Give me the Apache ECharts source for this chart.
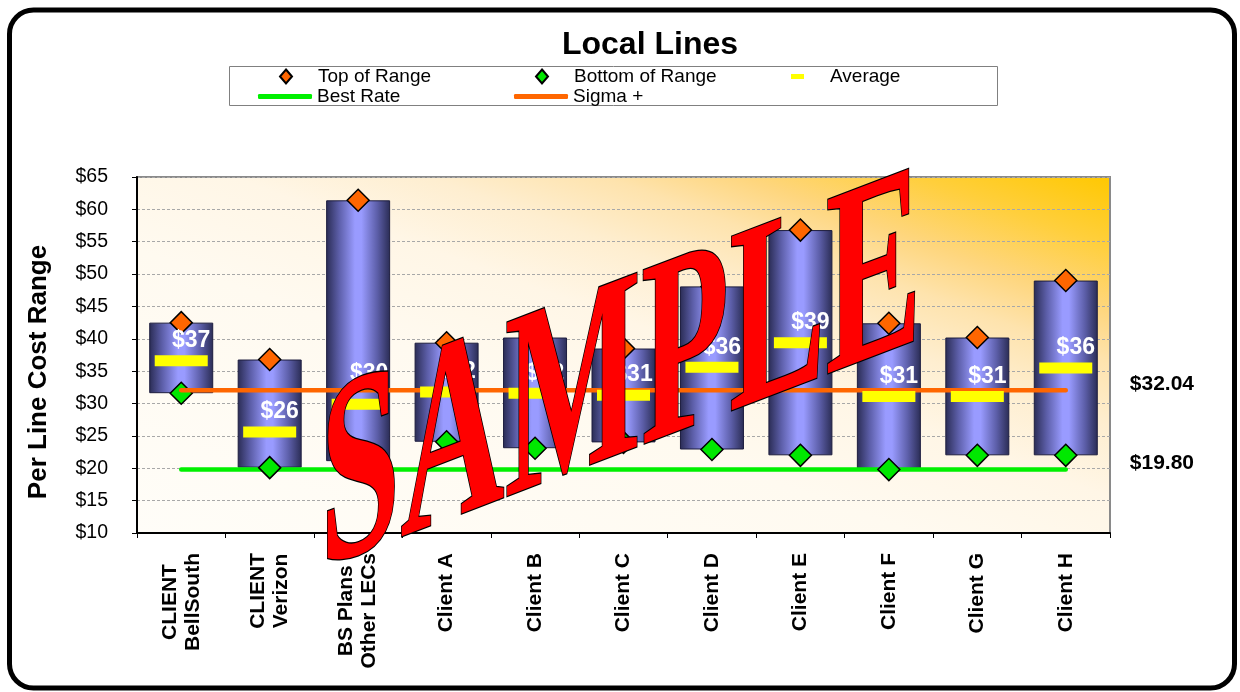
<!DOCTYPE html>
<html>
<head>
<meta charset="utf-8">
<title>Local Lines</title>
<script src="https://cdn.jsdelivr.net/npm/echarts@6/dist/echarts.min.js"></script>
<style>
  html, body { margin: 0; padding: 0; background: #ffffff; }
  #chart { width: 1240px; height: 692px; }
</style>
</head>
<body>
<div id="chart"></div>
<script>
// Per-line cost range by carrier / client
const categories = [
  'CLIENT\nBellSouth', 'CLIENT\nVerizon', 'BS Plans\nOther LECs',
  'Client A', 'Client B', 'Client C', 'Client D',
  'Client E', 'Client F', 'Client G', 'Client H'
];
const topOfRange    = [42.5, 36.8, 61.4, 39.4, 40.2, 38.5, 48.1, 56.8, 42.4, 40.2, 49.0];
const bottomOfRange = [31.6, 20.1, 21.1, 24.1, 23.1, 24.0, 22.9, 22.0, 19.8, 22.0, 22.0];
const averages      = [36.6, 25.6, 29.9, 31.8, 31.6, 31.3, 35.6, 39.4, 31.1, 31.1, 35.5];
const bestRate  = 19.80;
const sigmaPlus = 32.04;
// value axis ticks: $10 ... $65 every $5
const yMin = 10, yMax = 65, yStep = 5;

const FONT = '"Liberation Sans", Arial, sans-serif';

const chart = echarts.init(document.getElementById('chart'), null, { renderer: 'canvas' });

// floating bars: transparent base up to the bottom of range, visible part spans the range
const rangeSpan = topOfRange.map((t, i) => +(t - bottomOfRange[i]).toFixed(2));

const barFill = new echarts.graphic.LinearGradient(0, 0, 1, 0, [
  { offset: 0, color: '#2a2c54' },
  { offset: 0.2, color: '#5c5ea8' },
  { offset: 0.45, color: '#999bff' },
  { offset: 0.55, color: '#999bff' },
  { offset: 0.8, color: '#5c5ea8' },
  { offset: 1, color: '#2a2c54' }
]);

// warm wash rising toward the top-right corner of the plot
const plotFill = new echarts.graphic.LinearGradient(1, 0, 0.764, 1.762, [
  { offset: 0, color: '#ffc800' },
  { offset: 0.1, color: '#ffcf3c' },
  { offset: 0.19, color: '#fed67e' },
  { offset: 0.26, color: '#fee3ad' },
  { offset: 0.35, color: '#feeed0' },
  { offset: 0.45, color: '#fff6e6' },
  { offset: 0.6, color: '#fffaf0' },
  { offset: 1, color: '#fffdf8' }
]);

const valueOf = p => Number(Array.isArray(p.value) ? p.value[1] : p.value);

const averageData = averages.map((v, i) =>
  i === 2 ? { value: v, label: { offset: [11, -11] } } : v
);

const legendText = { fontFamily: FONT, fontSize: 19, color: '#000', padding: [0, 0, 0, 21] };
const legendBase = { orient: 'horizontal', selectedMode: false, itemGap: 0, padding: 0 };

const option = {
  animation: false,
  backgroundColor: '#ffffff',
  title: {
    text: 'Local Lines',
    left: 645,
    textAlign: 'center',
    top: 24,
    textStyle: { fontFamily: FONT, fontSize: 32, fontWeight: 'bold', color: '#000' }
  },
  legend: [
    Object.assign({}, legendBase, {
      data: ['Top of Range'], left: 279, top: 67, icon: 'diamond',
      itemWidth: 12, itemHeight: 14, textStyle: legendText
    }),
    Object.assign({}, legendBase, {
      data: ['Bottom of Range'], left: 535, top: 67, icon: 'diamond',
      itemWidth: 12, itemHeight: 14, textStyle: legendText
    }),
    Object.assign({}, legendBase, {
      data: ['Average'], left: 791, top: 67, icon: 'rect',
      itemWidth: 13, itemHeight: 5, textStyle: legendText
    }),
    Object.assign({}, legendBase, {
      data: ['Best Rate'], left: 258, top: 87, icon: 'roundRect',
      itemWidth: 54, itemHeight: 5,
      textStyle: Object.assign({}, legendText, { padding: 0 })
    }),
    Object.assign({}, legendBase, {
      data: ['Sigma +'], left: 514, top: 87, icon: 'roundRect',
      itemWidth: 54, itemHeight: 5,
      textStyle: Object.assign({}, legendText, { padding: 0 })
    })
  ],
  grid: {
    left: 137, right: 130, top: 177, bottom: 159,
    show: true,
    backgroundColor: plotFill,
    borderColor: '#8a8a8a',
    borderWidth: 2,
    containLabel: false,
    outerBoundsMode: 'none'
  },
  xAxis: {
    type: 'category',
    data: categories,
    boundaryGap: true,
    axisLine: { show: true, lineStyle: { color: '#000', width: 2 } },
    axisTick: { show: true, length: 5, alignWithLabel: false, lineStyle: { color: '#000', width: 1 } },
    splitLine: { show: false },
    axisLabel: {
      interval: 0,
      rotate: 90,
      margin: 20,
      formatter: v => v.split('\n').map(s => '{c|' + s + '}').join('\n'),
      rich: {
        c: {
          fontFamily: FONT, fontSize: 21, fontWeight: 'bold', color: '#000',
          align: 'center', lineHeight: 23
        }
      }
    }
  },
  yAxis: {
    type: 'value',
    min: yMin, max: yMax, interval: yStep,
    name: 'Per Line Cost Range',
    nameLocation: 'middle',
    nameRotate: 90,
    nameGap: 85,
    nameTextStyle: {
      fontFamily: FONT, fontSize: 26, fontWeight: 'bold', color: '#000',
      padding: [0, 34, 0, 0]
    },
    axisLine: { show: true, lineStyle: { color: '#000', width: 2 } },
    axisTick: { show: true, length: 5, lineStyle: { color: '#000', width: 1 } },
    axisLabel: {
      formatter: '${value}',
      fontFamily: FONT, fontSize: 19.5, color: '#000', margin: 29
    },
    splitLine: { show: true, lineStyle: { color: '#a8a8a8', width: 1, type: [3, 2] } }
  },
  series: [
    {
      name: 'base',
      type: 'bar',
      stack: 'range',
      data: bottomOfRange,
      barWidth: 64,
      itemStyle: { color: 'rgba(0,0,0,0)' },
      emphasis: { disabled: true },
      silent: true,
      z: 2
    },
    {
      name: 'Range',
      type: 'bar',
      stack: 'range',
      data: rangeSpan,
      barWidth: 64,
      itemStyle: { color: barFill, borderColor: '#1d1d3f', borderWidth: 1 },
      emphasis: { disabled: true },
      silent: true,
      z: 2
    },
    {
      name: 'Best Rate',
      type: 'line',
      data: categories.map(() => bestRate),
      symbol: 'none',
      color: '#00f000',
      lineStyle: { color: '#00f000', width: 4.5, cap: 'round' },
      emphasis: { disabled: true },
      silent: true,
      z: 3,
      endLabel: {
        show: true,
        formatter: p => '$' + valueOf(p).toFixed(2),
        fontFamily: FONT, fontSize: 21, fontWeight: 'bold', color: '#000',
        distance: 0,
        offset: [64, -6]
      }
    },
    {
      name: 'Top of Range',
      type: 'scatter',
      data: topOfRange,
      symbol: 'diamond',
      symbolSize: 22,
      itemStyle: { color: '#ff6600', borderColor: '#000', borderWidth: 1.5, opacity: 1 },
      emphasis: { disabled: true },
      silent: true,
      z: 4
    },
    {
      name: 'Bottom of Range',
      type: 'scatter',
      data: bottomOfRange,
      symbol: 'diamond',
      symbolSize: 22,
      itemStyle: { color: '#00e800', borderColor: '#000', borderWidth: 1.5, opacity: 1 },
      emphasis: { disabled: true },
      silent: true,
      z: 4
    },
    {
      name: 'Sigma +',
      type: 'line',
      data: categories.map(() => sigmaPlus),
      symbol: 'none',
      color: '#ff6600',
      lineStyle: { color: '#ff6600', width: 4.5, cap: 'round' },
      emphasis: { disabled: true },
      silent: true,
      z: 5,
      endLabel: {
        show: true,
        formatter: p => '$' + valueOf(p).toFixed(2),
        fontFamily: FONT, fontSize: 21, fontWeight: 'bold', color: '#000',
        distance: 0,
        offset: [64, -6]
      }
    },
    {
      name: 'Average',
      type: 'scatter',
      data: averageData,
      symbol: 'rect',
      symbolSize: [53, 11],
      itemStyle: { color: '#ffff00', opacity: 1 },
      emphasis: { disabled: true },
      silent: true,
      z: 6,
      label: {
        show: true,
        position: 'top',
        distance: 3,
        offset: [10, 0],
        formatter: p => '$' + Math.round(valueOf(p)),
        fontFamily: FONT, fontSize: 23, fontWeight: 'bold', color: '#ffffff'
      }
    }
  ],
  graphic: [
    // rounded outer frame
    {
      type: 'rect',
      z: 0,
      silent: true,
      shape: { x: 9.5, y: 10, width: 1225, height: 678, r: 24 },
      style: { fill: 'none', stroke: '#000', lineWidth: 5 }
    },
    // legend box
    {
      type: 'rect',
      z: 1,
      silent: true,
      shape: { x: 229.5, y: 66.5, width: 768, height: 39 },
      style: { fill: '#ffffff', stroke: '#808080', lineWidth: 1 }
    },
    // "SAMPLE" stamp across the plot
    {
      type: 'text',
      z: 100,
      silent: true,
      x: 320,
      y: 499,
      scaleX: 0.545,
      scaleY: 1,
      skewY: 0.365,
      style: {
        text: 'SAMPLE',
        font: 'bold 265px "Liberation Serif", "Times New Roman", serif',
        fill: '#ff0000',
        stroke: '#000000',
        lineWidth: 2.5,
        align: 'left',
        verticalAlign: 'middle',
        textAlign: 'left',
        textVerticalAlign: 'middle'
      }
    }
  ]
};

chart.setOption(option);
</script>
</body>
</html>
